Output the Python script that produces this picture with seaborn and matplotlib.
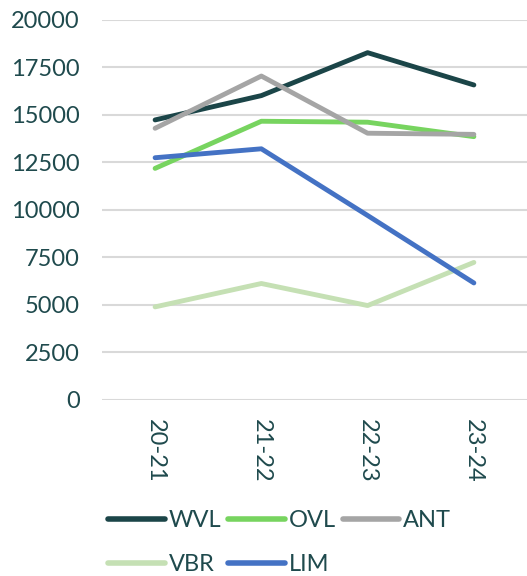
import matplotlib
matplotlib.use("Agg")
import matplotlib.pyplot as plt
import seaborn as sns
import pandas as pd

seasons = ["20-21", "21-22", "22-23", "23-24"]
wvl = [14740, 16020, 18280, 16580]
ovl = [12190, 14670, 14620, 13860]
ant = [14300, 17050, 14040, 13980]
vbr = [4900, 6130, 4970, 7240]
lim = [12750, 13220, 9710, 6160]
yticks = [0, 2500, 5000, 7500, 10000, 12500, 15000, 17500, 20000]

series = {"WVL": wvl, "OVL": ovl, "ANT": ant, "VBR": vbr, "LIM": lim}
colors = {"WVL": "#1b4548", "OVL": "#77d45f", "ANT": "#a5a5a5",
          "VBR": "#c5e0b4", "LIM": "#4472c4"}

rows = []
for name, vals in series.items():
    for s, v in zip(seasons, vals):
        rows.append({"season": s, "value": v, "region": name})
df = pd.DataFrame(rows)

sns.set_theme(style="white")
plt.rcParams["font.family"] = ["Lato", "DejaVu Sans"]
txt = "#1f4a4d"

fig = plt.figure(figsize=(5.27, 5.76), dpi=100)
ax = fig.add_axes([0.1935, 0.3056, 0.8065, 0.6597])
sns.lineplot(data=df, x="season", y="value", hue="region", palette=colors,
             hue_order=list(series.keys()), linewidth=3.5, ax=ax, sort=False)
for ln in ax.get_lines():
    ln.set_solid_capstyle("round")

ax.set_xlim(-0.5, 3.5)
ax.set_ylim(0, 20000)
ax.set_yticks(yticks)
ax.set_yticklabels([str(t) for t in yticks])
ax.grid(axis="y", color="#d9d9d9", linewidth=1.5)
ax.set_axisbelow(True)
for sp in ax.spines.values():
    sp.set_visible(False)
ax.set_xlabel("")
ax.set_ylabel("")
ax.tick_params(axis="y", length=0, pad=16, labelsize=17, labelcolor=txt)
ax.tick_params(axis="x", length=0, pad=14, labelsize=17, labelcolor=txt,
               labelrotation=270)

handles, labels = ax.get_legend_handles_labels()
hmap = dict(zip(labels, handles))
order = ["WVL", "VBR", "OVL", "LIM", "ANT"]
ax.legend([hmap[k] for k in order], order, loc="upper left",
          bbox_to_anchor=(0.015, -0.289),
          ncol=3, frameon=False, fontsize=17, labelcolor=txt,
          handlelength=2.4, handletextpad=0.15, columnspacing=0.3,
          labelspacing=1.0, borderaxespad=0, borderpad=0)
for lh in ax.get_legend().get_lines():
    lh.set_linewidth(4)
    lh.set_solid_capstyle("round")

fig.savefig("out.png", dpi=100)
